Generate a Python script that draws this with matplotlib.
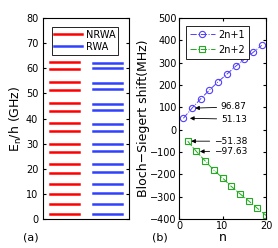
import matplotlib
matplotlib.use("Agg")
import matplotlib.pyplot as plt
import numpy as np

# energy levels (GHz)
nrwa_levels = [2.0, 6.1, 10.1, 14.1, 18.4, 22.0, 26.5, 30.0, 34.9, 38.2,
               43.2, 46.2, 51.3, 54.4, 59.7, 62.6]
rwa_levels = [2.0, 6.1, 10.2, 14.1, 18.6, 22.0, 26.9, 30.0, 35.1, 37.9,
              43.5, 45.9, 51.7, 54.1, 60.0, 62.3]

# Bloch-Siegert shift (MHz)
n_odd = [1, 3, 5, 7, 9, 11, 13, 15, 17, 19]
shift_odd = [51.13, 96.87, 139, 178, 215, 249, 284, 315, 346, 378]
n_even = [2, 4, 6, 8, 10, 12, 14, 16, 18, 20]
shift_even = [-51.38, -97.63, -140, -181, -216, -254, -287, -319, -352, -384]

plt.rcParams['font.family'] = ['DejaVu Sans']
fig = plt.figure(figsize=(2.78, 2.48), dpi=100)

# (a) energy levels
ax1 = fig.add_axes([0.155, 0.117, 0.309, 0.81])
for i, e in enumerate(nrwa_levels):
    ax1.plot([0.08, 0.42], [e, e], color='red', lw=1.8,
             label='NRWA' if i == 0 else None)
for i, e in enumerate(rwa_levels):
    ax1.plot([0.58, 0.92], [e, e], color='#3040ff', lw=1.8,
             label='RWA' if i == 0 else None)
ax1.set_xlim(0, 1)
ax1.set_ylim(0, 80)
ax1.set_xticks([])
ax1.set_yticks(range(0, 81, 10))
ax1.tick_params(labelsize=7, direction='in', length=2, right=True)
ax1.set_ylabel(r'E$_\mathregular{n}$/h (GHz)', fontsize=9, labelpad=1)
leg = ax1.legend(loc='upper right', fontsize=7, handlelength=2.8,
                 borderpad=0.3, labelspacing=0.2, handletextpad=0.4,
                 fancybox=False, edgecolor='black', framealpha=1,
                 bbox_to_anchor=(0.93, 0.98))
leg.get_frame().set_linewidth(0.6)
fig.text(0.083, 0.03, '(a)', fontsize=8)

# (b) Bloch-Siegert shift
ax2 = fig.add_axes([0.644, 0.117, 0.313, 0.81])
ax2.plot(n_odd, shift_odd, '-.', color='#5040ff', lw=0.7, marker='o',
         ms=4.5, mfc='none', mew=0.8, label='2n+1')
ax2.plot(n_even, shift_even, '-.', color='#22aa22', lw=0.7, marker='s',
         ms=3.8, mfc='none', mew=0.8, label='2n+2')
ax2.set_xlim(0, 20)
ax2.set_ylim(-400, 500)
ax2.set_xticks([0, 10, 20])
ax2.set_yticks(range(-400, 501, 100))
ax2.tick_params(labelsize=7, direction='in', length=2, right=True, top=True,
                pad=1.5)
ax2.set_xlabel('n', fontsize=9, labelpad=0)
ax2.set_ylabel('Bloch\u2212Siegert shift(MHz)', fontsize=9, labelpad=0)
leg2 = ax2.legend(loc='upper left', fontsize=7, handlelength=2.6,
                  borderpad=0.4, labelspacing=0.5, handletextpad=0.4,
                  fancybox=False, edgecolor='black', framealpha=1,
                  bbox_to_anchor=(0.02, 0.985))
leg2.get_frame().set_linewidth(0.6)

arrow = dict(arrowstyle='-|>', color='black', lw=0.6, mutation_scale=6,
             shrinkA=1, shrinkB=0)
ax2.annotate('96.87', xy=(3.7, shift_odd[1]), xytext=(9.6, shift_odd[1] + 5),
             fontsize=6.5, arrowprops=arrow, va='center')
ax2.annotate('51.13', xy=(2.5, shift_odd[0]), xytext=(9.6, shift_odd[0] - 4),
             fontsize=6.5, arrowprops=arrow, va='center')
ax2.annotate('\u221251.38', xy=(2.8, shift_even[0]), xytext=(8.0, shift_even[0]),
             fontsize=6.5, arrowprops=arrow, va='center')
ax2.annotate('\u221297.63', xy=(4.8, shift_even[1]), xytext=(8.0, shift_even[1] + 2),
             fontsize=6.5, arrowprops=arrow, va='center')
fig.text(0.545, 0.03, '(b)', fontsize=8)

fig.savefig('out.png', dpi=100)
